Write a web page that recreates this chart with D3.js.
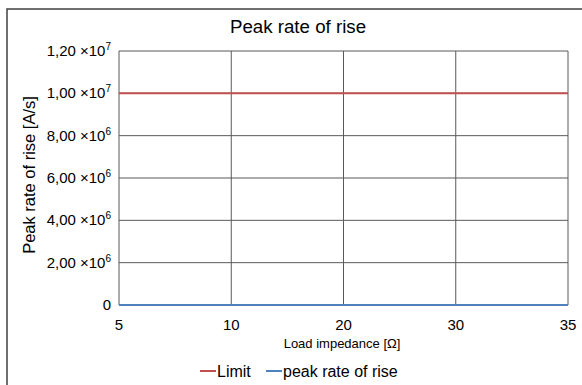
<!DOCTYPE html>
<html>
<head>
<meta charset="utf-8">
<script src="https://cdn.jsdelivr.net/npm/d3@7"></script>
<style>
body { margin: 0; background: #fff; }
text { font-family: "Liberation Sans", Arial, sans-serif; fill: #000; }
</style>
</head>
<body>
<script>
var loadImpedance = ['5', '10', '20', '30', '35'];
var limitValues = [1e7, 1e7, 1e7, 1e7, 1e7];
var peakValues = [0, 0, 0, 0, 0];
var yTicks = [0, 2e6, 4e6, 6e6, 8e6, 1e7, 1.2e7];

var margin = { top: 51, right: 14, bottom: 80, left: 119 },
    width = 582 - margin.left - margin.right,
    height = 385 - margin.top - margin.bottom;

var svg = d3.select('body')
    .append('svg')
    .attr('width', 582)
    .attr('height', 385);

// outer chart border (runs off the right and bottom edges)
svg.append('rect')
    .attr('x', 7).attr('y', 9)
    .attr('width', 600).attr('height', 400)
    .attr('fill', 'none')
    .attr('stroke', '#404040')
    .attr('stroke-width', 1.5);

var x = d3.scalePoint().domain(loadImpedance).range([0, width]);
var y = d3.scaleLinear().domain([0, 1.2e7]).range([height, 0]);

var g = svg.append('g')
    .attr('transform', 'translate(' + margin.left + ',' + margin.top + ')');

// grid
g.selectAll('.hgrid')
    .data(yTicks)
    .enter()
    .append('line')
    .attr('x1', 0).attr('x2', width)
    .attr('y1', function (d) { return y(d); })
    .attr('y2', function (d) { return y(d); })
    .attr('stroke', '#595959');

g.selectAll('.vgrid')
    .data(loadImpedance)
    .enter()
    .append('line')
    .attr('x1', function (d) { return x(d); })
    .attr('x2', function (d) { return x(d); })
    .attr('y1', 0).attr('y2', height)
    .attr('stroke', '#595959');

// y tick labels with x10^n notation
var yLab = g.selectAll('.ylab')
    .data(yTicks)
    .enter()
    .append('text')
    .attr('x', -8)
    .attr('y', function (d) { return y(d) + 5; })
    .attr('text-anchor', 'end')
    .style('font-size', '15px');

yLab.each(function (d) {
    var t = d3.select(this);
    if (d === 0) { t.text('0'); return; }
    var exp = Math.floor(Math.log10(d));
    var mant = (d / Math.pow(10, exp)).toFixed(2).replace('.', ',');
    t.append('tspan').text(mant + ' \u00d710');
    t.append('tspan').attr('dy', -6).style('font-size', '10px').text(exp);
});

// x tick labels
g.selectAll('.xlab')
    .data(loadImpedance)
    .enter()
    .append('text')
    .attr('x', function (d) { return x(d); })
    .attr('y', height + 25)
    .attr('text-anchor', 'middle')
    .style('font-size', '15px')
    .text(function (d) { return d; });

var line = d3.line()
    .x(function (d, i) { return x(loadImpedance[i]); })
    .y(function (d) { return y(d); });

g.append('path')
    .datum(limitValues)
    .attr('d', line)
    .attr('fill', 'none')
    .attr('stroke', '#c0504d')
    .attr('stroke-width', 2);

g.append('path')
    .datum(peakValues)
    .attr('d', line)
    .attr('fill', 'none')
    .attr('stroke', '#4f81bd')
    .attr('stroke-width', 2);

// titles
svg.append('text')
    .attr('x', 298).attr('y', 33)
    .attr('text-anchor', 'middle')
    .style('font-size', '18.7px')
    .text('Peak rate of rise');

svg.append('text')
    .attr('transform', 'translate(35,175) rotate(-90)')
    .attr('text-anchor', 'middle')
    .style('font-size', '16.5px')
    .text('Peak rate of rise [A/s]');

svg.append('text')
    .attr('x', 342).attr('y', 348)
    .attr('text-anchor', 'middle')
    .style('font-size', '13px')
    .text('Load impedance [\u03a9]');

// legend
var legend = [
    { name: 'Limit', color: '#c0504d', x: 200 },
    { name: 'peak rate of rise', color: '#4f81bd', x: 266 }
];
var lg = svg.selectAll('.leg')
    .data(legend)
    .enter()
    .append('g')
    .attr('transform', function (d) { return 'translate(' + d.x + ',371)'; });
lg.append('line')
    .attr('x1', 0).attr('x2', 16)
    .attr('y1', 0).attr('y2', 0)
    .attr('stroke', function (d) { return d.color; })
    .attr('stroke-width', 2);
lg.append('text')
    .attr('x', 17).attr('y', 6)
    .style('font-size', '16px')
    .text(function (d) { return d.name; });
</script>
</body>
</html>
